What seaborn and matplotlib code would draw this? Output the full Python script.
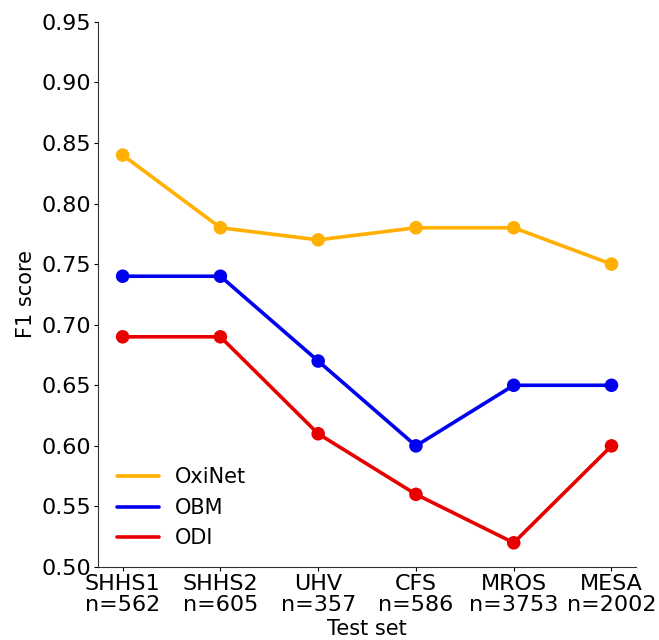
import matplotlib
matplotlib.use("Agg")
import matplotlib.pyplot as plt
import seaborn as sns
import pandas as pd

test_sets = ["SHHS1\nn=562", "SHHS2\nn=605", "UHV\nn=357", "CFS\nn=586", "MROS\nn=3753", "MESA\nn=2002"]
oxinet = [0.84, 0.78, 0.77, 0.78, 0.78, 0.75]
obm = [0.74, 0.74, 0.67, 0.60, 0.65, 0.65]
odi = [0.69, 0.69, 0.61, 0.56, 0.52, 0.60]
methods = ["OxiNet", "OBM", "ODI"]
palette = {"OxiNet": "#ffb000", "OBM": "#0000f0", "ODI": "#e80000"}

rows = []
for name, vals in zip(methods, [oxinet, obm, odi]):
    for i, v in enumerate(vals):
        rows.append({"pos": i, "Method": name, "F1": v})
df = pd.DataFrame(rows)

sns.set_style("ticks")
plt.rcParams["font.family"] = ["DejaVu Sans"]
plt.rcParams["text.color"] = "black"
plt.rcParams["axes.labelcolor"] = "black"
plt.rcParams["xtick.color"] = "black"
plt.rcParams["ytick.color"] = "black"
plt.rcParams["axes.edgecolor"] = "#333333"

fig = plt.figure(figsize=(6.59, 6.40), dpi=100)
ax = fig.add_axes([0.149, 0.114, 0.816, 0.852])

sns.lineplot(data=df, x="pos", y="F1", hue="Method", hue_order=methods,
             palette=palette, linewidth=2.6, ax=ax)
sns.scatterplot(data=df, x="pos", y="F1", hue="Method", hue_order=methods,
                palette=palette, s=95, edgecolor="none", legend=False,
                ax=ax, zorder=3)

ax.set_xticks(range(len(test_sets)))
ax.set_xticklabels(test_sets, fontsize=16, linespacing=1.05)
ax.set_xlim(-0.25, 5.25)
ax.set_ylim(0.50, 0.95)
ax.set_yticks([0.50 + 0.05 * k for k in range(10)])
ax.set_yticklabels([f"{0.50 + 0.05 * k:.2f}" for k in range(10)], fontsize=16)
ax.tick_params(axis="both", length=3, pad=2)
ax.set_xlabel("Test set", fontsize=15, labelpad=3)
ax.set_ylabel("F1 score", fontsize=15)
sns.despine(ax=ax)

leg = ax.legend(loc="lower left", frameon=False, fontsize=15,
                bbox_to_anchor=(0.0, 0.0), handlelength=2.0)
for line in leg.get_lines():
    line.set_linewidth(2.6)

fig.savefig("out.png", dpi=100)
